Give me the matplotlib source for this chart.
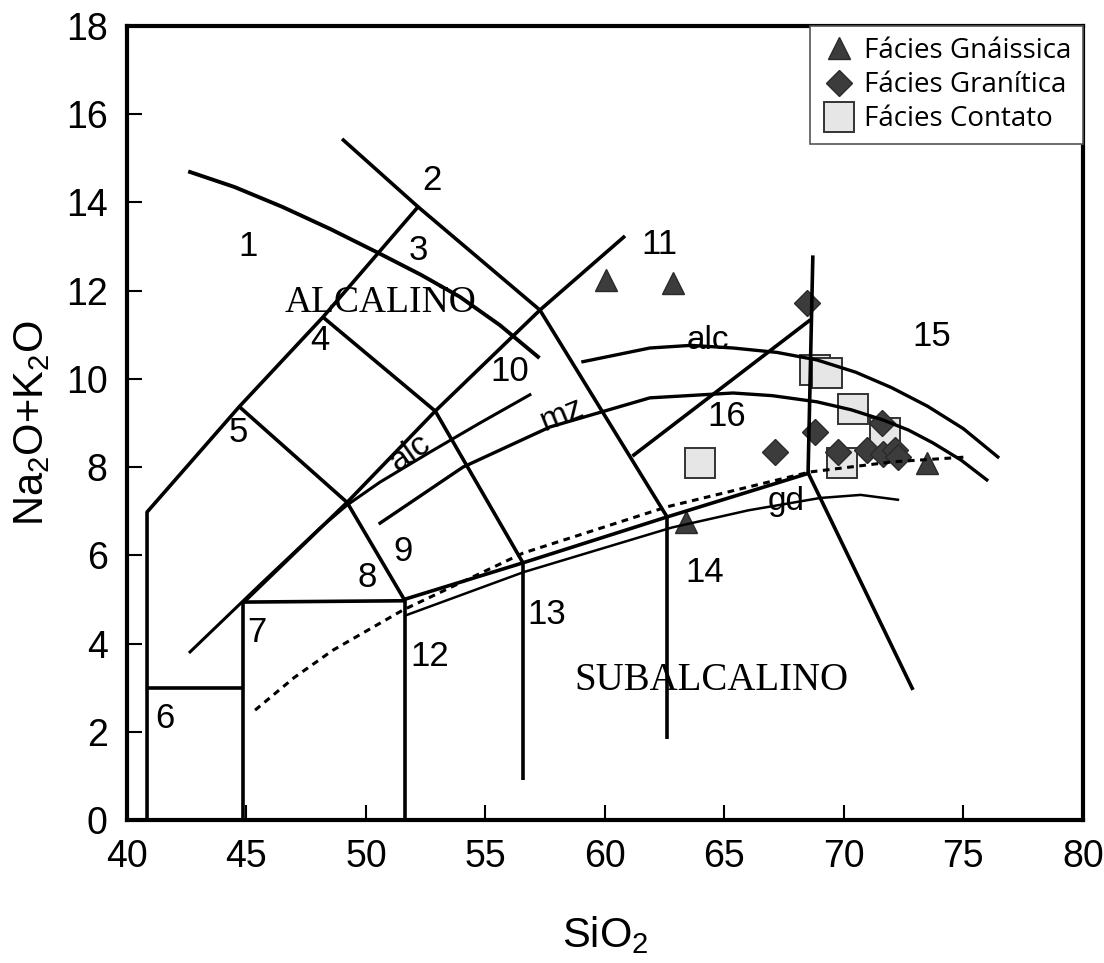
import numpy as np
import matplotlib.pyplot as plt
from matplotlib.lines import Line2D

plt.rcParams['font.family'] = ['Liberation Sans', 'DejaVu Sans']
plt.rcParams['mathtext.default'] = 'regular'

# amostras (SiO2, Na2O+K2O)
gnaiss_x = [60.04, 62.85, 63.40, 73.47]
gnaiss_y = [12.24, 12.18, 6.75, 8.10]
gran_x = [68.45, 68.79, 67.10, 69.75, 70.96, 71.60, 71.63, 72.13, 72.26]
gran_y = [11.72, 8.80, 8.34, 8.34, 8.39, 9.00, 8.30, 8.39, 8.23]
cont_x = [68.79, 69.29, 70.38, 71.72, 69.92, 63.97]
cont_y = [10.20, 10.14, 9.32, 8.78, 8.10, 8.10]

# limites dos campos (retas)
left_x = [40.84, 40.84, 44.70, 48.20, 52.18]
left_y = [0.0, 6.98, 9.37, 11.40, 13.90]
line2_x = [49.00, 52.18, 57.28, 62.60]
line2_y = [15.44, 13.90, 11.56, 6.87]
diagb_x = [44.85, 49.21, 52.90, 57.28, 60.84]
diagb_y = [4.92, 7.20, 9.27, 11.56, 13.24]
line4_x = [48.20, 52.90, 56.57]
line4_y = [11.40, 9.27, 5.83]
line5_x = [44.70, 49.21, 51.60]
line5_y = [9.37, 7.20, 5.00]
v45_x = [44.85, 44.85]
v45_y = [0.0, 4.92]
h3_x = [40.84, 44.85]
h3_y = [3.00, 3.00]
h5_x = [44.85, 51.60]
h5_y = [4.94, 4.97]
v52_x = [51.63, 51.63]
v52_y = [0.0, 5.00]
v57_x = [56.57, 56.57]
v57_y = [0.91, 5.83]
v63_x = [62.60, 62.60]
v63_y = [1.84, 6.87]
subalk_x = [51.60, 56.57, 62.60, 68.58]
subalk_y = [5.00, 5.83, 6.87, 7.87]
v69_x = [68.70, 68.50]
v69_y = [12.80, 7.87]
diag15_x = [68.50, 72.89]
diag15_y = [7.87, 2.95]
line16_x = [61.15, 68.60]
line16_y = [8.25, 11.34]

# curvas
c1_x = [42.64, 44.50, 46.50, 48.50, 50.50, 52.30, 53.93, 55.60, 57.20]
c1_y = [14.69, 14.35, 13.90, 13.40, 12.86, 12.36, 11.86, 11.22, 10.50]
alc_lo_x = [42.64, 45.56, 48.08, 49.21, 50.59, 52.68, 54.77, 56.86]
alc_lo_y = [3.81, 5.33, 6.62, 7.14, 7.66, 8.34, 9.00, 9.64]
alc_hi_x = [59.08, 61.88, 63.60, 65.36, 67.20, 68.87, 70.50, 72.00, 73.50, 75.00, 76.44]
alc_hi_y = [10.39, 10.70, 10.76, 10.70, 10.60, 10.43, 10.15, 9.80, 9.38, 8.87, 8.23]
mz_x = [50.59, 54.06, 57.70, 61.88, 65.36, 67.00, 68.87, 70.30, 71.63, 72.70, 73.72, 74.90, 75.98]
mz_y = [6.73, 8.00, 8.91, 9.57, 9.68, 9.62, 9.48, 9.30, 9.07, 8.84, 8.55, 8.16, 7.71]
gd_x = [51.72, 56.60, 62.80, 66.00, 69.00, 70.70, 72.26]
gd_y = [4.65, 5.62, 6.63, 7.02, 7.30, 7.37, 7.26]
dash_x = [45.36, 47.00, 48.62, 51.55, 56.57, 62.60, 68.58, 72.05, 75.15]
dash_y = [2.49, 3.23, 3.85, 4.76, 6.05, 7.10, 7.89, 8.12, 8.23]

# rotulos
field_names = ['1', '2', '3', '4', '5', '6', '7', '8', '9', '10', '11', '12', '13', '14', '15', '16']
field_x = [45.06, 52.76, 52.18, 48.07, 44.64, 41.60, 45.44, 50.04, 51.55, 56.03, 62.30, 52.68, 57.57, 64.18, 73.68, 65.10]
field_y = [13.00, 14.50, 12.90, 10.88, 8.78, 2.31, 4.24, 5.49, 6.08, 10.16, 13.04, 3.70, 4.65, 5.60, 10.95, 9.14]

fig = plt.figure(figsize=(11.04, 9.63), dpi=100)
ax = fig.add_axes([0.1150, 0.1485, 0.8659, 0.8245])

# pontos
ax.plot(cont_x, cont_y, 's', ms=21, mfc='#e6e6e6', mec='#333333', mew=1.4, zorder=2)
ax.plot(gran_x, gran_y, 'D', ms=13.5, mfc='#3c3c3c', mec='#2a2a2a', mew=1, zorder=2.5)
ax.plot(gnaiss_x, gnaiss_y, '^', ms=16, mfc='#3c3c3c', mec='#2a2a2a', mew=1, zorder=2.5)

thick = dict(color='black', lw=2.6, solid_capstyle='butt', zorder=3)
for xs, ys in [(left_x, left_y), (line2_x, line2_y), (diagb_x, diagb_y), (line4_x, line4_y),
               (line5_x, line5_y), (v45_x, v45_y), (h3_x, h3_y), (h5_x, h5_y), (v52_x, v52_y),
               (v57_x, v57_y), (v63_x, v63_y), (subalk_x, subalk_y), (v69_x, v69_y),
               (diag15_x, diag15_y), (line16_x, line16_y)]:
    ax.plot(xs, ys, **thick)

ax.plot(c1_x, c1_y, color='black', lw=2.8, zorder=3)
ax.plot(alc_lo_x, alc_lo_y, color='black', lw=2.2, zorder=3)
ax.plot(alc_hi_x, alc_hi_y, color='black', lw=2.4, zorder=3)
ax.plot(mz_x, mz_y, color='black', lw=2.4, zorder=3)
ax.plot(gd_x, gd_y, color='black', lw=1.8, zorder=3)
ax.plot(dash_x, dash_y, color='black', lw=2.2, ls=(0, (2.2, 1.8)), zorder=3)

for name, x, y in zip(field_names, field_x, field_y):
    ax.text(x, y, name, fontsize=25, ha='center', va='center', zorder=4)

ax.text(64.3, 10.88, 'alc', fontsize=24, ha='center', va='center', zorder=4)
ax.text(58.2, 9.18, 'mz', fontsize=24, ha='center', va='center', rotation=22, zorder=4)
ax.text(51.84, 8.32, 'alc', fontsize=24, ha='center', va='center', rotation=35, zorder=4)
ax.text(67.6, 7.21, 'gd', fontsize=24, ha='center', va='center', zorder=4)
ax.text(50.59, 11.72, 'ALCALINO', fontsize=27, family='Liberation Serif',
        ha='center', va='center', zorder=4)
ax.text(64.44, 3.17, 'SUBALCALINO', fontsize=28, family='Liberation Serif',
        ha='center', va='center', zorder=4)

ax.set_xlim(40, 80)
ax.set_ylim(0, 18)
ax.set_xticks(np.arange(40, 81, 5))
ax.set_yticks(np.arange(0, 19, 2))
ax.tick_params(direction='in', length=11, width=1.5, labelsize=27, pad=14)
for s in ax.spines.values():
    s.set_linewidth(3)

ax.set_xlabel('SiO$_2$', fontsize=30, labelpad=28)
ax.set_ylabel('Na$_2$O+K$_2$O', fontsize=30, labelpad=10)

handles = [
    Line2D([], [], ls='none', marker='^', ms=16, mfc='#3c3c3c', mec='#2a2a2a'),
    Line2D([], [], ls='none', marker='D', ms=13.5, mfc='#3c3c3c', mec='#2a2a2a'),
    Line2D([], [], ls='none', marker='s', ms=21, mfc='#e6e6e6', mec='#333333', mew=1.4),
]
leg = ax.legend(handles, ['Fácies Gnáissica', 'Fácies Granítica', 'Fácies Contato'],
                loc='upper right', borderaxespad=0, fancybox=False, framealpha=1,
                edgecolor='#555555', prop={'family': 'Open Sans', 'size': 20},
                handletextpad=0.25, labelspacing=0.22, borderpad=0.4, handlelength=1.3)
leg.get_frame().set_linewidth(1.2)
leg.set_zorder(5)

fig.savefig('out.png', dpi=100)
